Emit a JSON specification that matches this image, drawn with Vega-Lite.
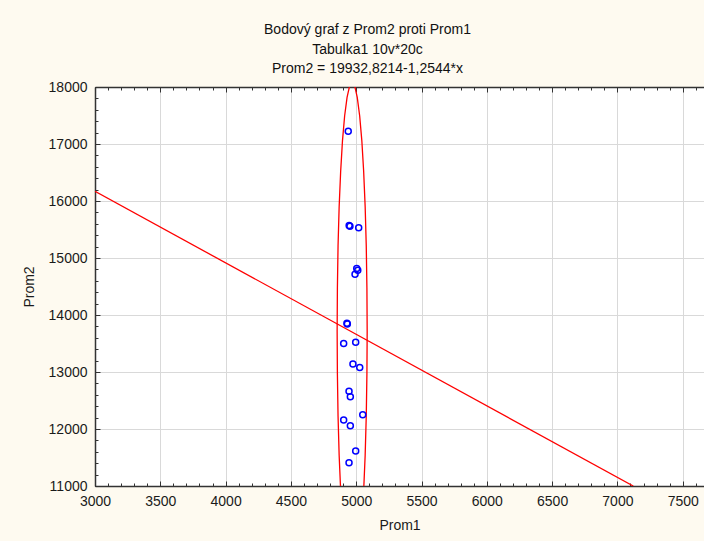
{
  "$schema": "https://vega.github.io/schema/vega-lite/v6.json",
  "width": 609,
  "height": 399,
  "autosize": {"type": "none"},
  "padding": {"left": 95, "top": 87, "right": 0, "bottom": 55},
  "background": "#fefaf0",
  "title": {
    "text": ["Bodový graf z Prom2 proti Prom1", "Tabulka1 10v*20c", "Prom2 = 19932,8214-1,2544*x"],
    "font": "Liberation Sans",
    "fontSize": 14,
    "fontWeight": "normal",
    "color": "#111111",
    "lineHeight": 19.5,
    "anchor": "middle",
    "frame": "group",
    "dx": -32,
    "offset": 4
  },
  "config": {
    "view": {"stroke": null, "fill": "white"},
    "axis": {
      "labelFont": "Liberation Sans",
      "titleFont": "Liberation Sans",
      "labelFontSize": 14,
      "titleFontSize": 14,
      "titleFontWeight": "normal",
      "labelColor": "#1a1a1a",
      "titleColor": "#1a1a1a",
      "domainColor": "#333333",
      "tickColor": "#333333",
      "gridColor": "#d9d9d9",
      "gridWidth": 1,
      "labelFlush": false,
      "labelOverlap": false
    }
  },
  "datasets": {
    "points": [
      {"Prom1": 4939, "Prom2": 17225},
      {"Prom1": 4946, "Prom2": 15570},
      {"Prom1": 4952, "Prom2": 15558},
      {"Prom1": 5019, "Prom2": 15529},
      {"Prom1": 5004, "Prom2": 14817},
      {"Prom1": 5012, "Prom2": 14785},
      {"Prom1": 4991, "Prom2": 14717},
      {"Prom1": 4929, "Prom2": 13855},
      {"Prom1": 4932, "Prom2": 13840},
      {"Prom1": 4904, "Prom2": 13502},
      {"Prom1": 4996, "Prom2": 13520},
      {"Prom1": 4975, "Prom2": 13139},
      {"Prom1": 5027, "Prom2": 13081},
      {"Prom1": 4945, "Prom2": 12661},
      {"Prom1": 4955, "Prom2": 12566},
      {"Prom1": 5050, "Prom2": 12250},
      {"Prom1": 4904, "Prom2": 12157},
      {"Prom1": 4955, "Prom2": 12057},
      {"Prom1": 4996, "Prom2": 11614},
      {"Prom1": 4945, "Prom2": 11409}
    ],
    "ellipse": [
      {"i": 0, "Prom1": 4969, "Prom2": 18080},
      {"i": 1, "Prom1": 4989, "Prom2": 18014},
      {"i": 2, "Prom1": 5008, "Prom2": 17817},
      {"i": 3, "Prom1": 5026.5, "Prom2": 17496},
      {"i": 4, "Prom1": 5043, "Prom2": 17060},
      {"i": 5, "Prom1": 5057, "Prom2": 16523},
      {"i": 6, "Prom1": 5068.6, "Prom2": 15900},
      {"i": 7, "Prom1": 5077, "Prom2": 15211},
      {"i": 8, "Prom1": 5082, "Prom2": 14477},
      {"i": 9, "Prom1": 5084, "Prom2": 13720},
      {"i": 10, "Prom1": 5082, "Prom2": 12963},
      {"i": 11, "Prom1": 5077, "Prom2": 12229},
      {"i": 12, "Prom1": 5068.6, "Prom2": 11540},
      {"i": 13, "Prom1": 5057, "Prom2": 10917},
      {"i": 14, "Prom1": 5043, "Prom2": 10380},
      {"i": 15, "Prom1": 5026.5, "Prom2": 9944},
      {"i": 16, "Prom1": 5008, "Prom2": 9623},
      {"i": 17, "Prom1": 4989, "Prom2": 9426},
      {"i": 18, "Prom1": 4969, "Prom2": 9360},
      {"i": 19, "Prom1": 4949, "Prom2": 9426},
      {"i": 20, "Prom1": 4930, "Prom2": 9623},
      {"i": 21, "Prom1": 4911.5, "Prom2": 9944},
      {"i": 22, "Prom1": 4895, "Prom2": 10380},
      {"i": 23, "Prom1": 4881, "Prom2": 10917},
      {"i": 24, "Prom1": 4869.4, "Prom2": 11540},
      {"i": 25, "Prom1": 4861, "Prom2": 12229},
      {"i": 26, "Prom1": 4856, "Prom2": 12963},
      {"i": 27, "Prom1": 4854, "Prom2": 13720},
      {"i": 28, "Prom1": 4856, "Prom2": 14477},
      {"i": 29, "Prom1": 4861, "Prom2": 15211},
      {"i": 30, "Prom1": 4869.4, "Prom2": 15900},
      {"i": 31, "Prom1": 4881, "Prom2": 16523},
      {"i": 32, "Prom1": 4895, "Prom2": 17060},
      {"i": 33, "Prom1": 4911.5, "Prom2": 17496},
      {"i": 34, "Prom1": 4930, "Prom2": 17817},
      {"i": 35, "Prom1": 4949, "Prom2": 18014},
      {"i": 36, "Prom1": 4969, "Prom2": 18080}
    ],
    "regression": [
      {"Prom1": 3000, "Prom2": 16169.6},
      {"Prom1": 7121.2, "Prom2": 11000}
    ]
  },
  "layer": [
    {
      "data": {"name": "ellipse"},
      "mark": {"type": "line", "color": "#ff0000", "strokeWidth": 1.3, "clip": true, "interpolate": "linear"},
      "encoding": {
        "x": {"field": "Prom1", "type": "quantitative", "scale": {"domain": [3000, 7663], "nice": false, "zero": false},
          "axis": {"orient": "top", "values": [3000,3100,3200,3300,3400,3500,3600,3700,3800,3900,4000,4100,4200,4300,4400,4500,4600,4700,4800,4900,5000,5100,5200,5300,5400,5500,5600,5700,5800,5900,6000,6100,6200,6300,6400,6500,6600,6700,6800,6900,7000,7100,7200,7300,7400,7500,7600],
            "labels": false, "grid": false, "title": null, "domainWidth": 1.5,
            "tickSize": {"condition": {"test": "datum.value % 500 === 0", "value": -5}, "value": -3}}},
        "y": {"field": "Prom2", "type": "quantitative", "scale": {"domain": [11000, 18000], "nice": false, "zero": false}, "axis": null},
        "order": {"field": "i", "type": "quantitative"}
      }
    },
    {
      "data": {"name": "regression"},
      "mark": {"type": "line", "color": "#ff0000", "strokeWidth": 1.3, "clip": true},
      "encoding": {
        "x": {"field": "Prom1", "type": "quantitative",
          "axis": {"orient": "bottom", "values": [3000,3100,3200,3300,3400,3500,3600,3700,3800,3900,4000,4100,4200,4300,4400,4500,4600,4700,4800,4900,5000,5100,5200,5300,5400,5500,5600,5700,5800,5900,6000,6100,6200,6300,6400,6500,6600,6700,6800,6900,7000,7100,7200,7300,7400,7500,7600],
            "labels": false, "grid": false, "domain": false, "title": null, "tickSize": -3}},
        "y": {"field": "Prom2", "type": "quantitative",
          "axis": {"orient": "left", "values": [11000,11200,11400,11600,11800,12000,12200,12400,12600,12800,13000,13200,13400,13600,13800,14000,14200,14400,14600,14800,15000,15200,15400,15600,15800,16000,16200,16400,16600,16800,17000,17200,17400,17600,17800,18000],
            "labels": false, "grid": false, "domain": false, "title": null, "tickSize": -3}}
      }
    },
    {
      "data": {"name": "points"},
      "mark": {"type": "point", "shape": "circle", "filled": false, "color": "#0000ff", "opacity": 1, "strokeWidth": 1.5, "size": 36, "clip": true},
      "encoding": {
        "x": {"field": "Prom1", "type": "quantitative",
          "axis": {"orient": "bottom", "values": [3000,3500,4000,4500,5000,5500,6000,6500,7000,7500], "format": "d",
            "grid": true, "tickSize": -5, "labelPadding": 13, "title": "Prom1", "titlePadding": 10, "domainWidth": 1.5}},
        "y": {"field": "Prom2", "type": "quantitative",
          "axis": {"orient": "left", "values": [11000,12000,13000,14000,15000,16000,17000,18000], "format": "d",
            "grid": true, "tickSize": -5, "labelPadding": 13, "title": "Prom2", "titlePadding": 12, "domainWidth": 1.5}}
      }
    }
  ],
  "resolve": {"axis": {"x": "independent", "y": "independent"}}
}
